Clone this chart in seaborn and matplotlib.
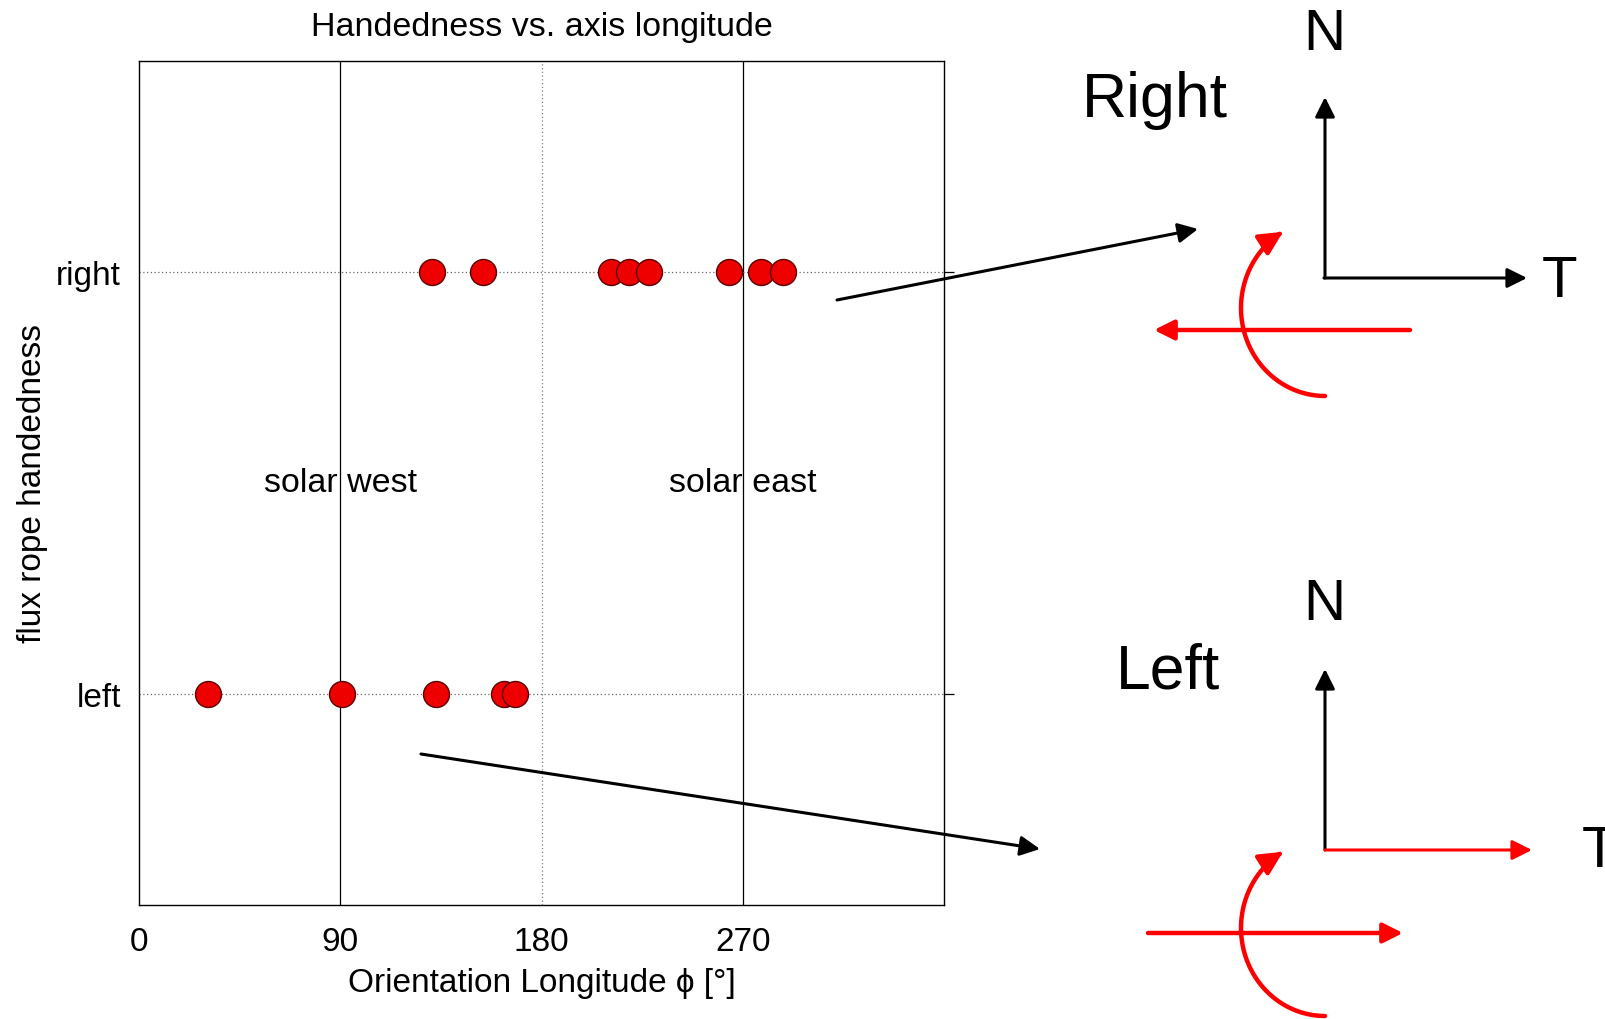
import numpy as np
import pandas as pd
import matplotlib.pyplot as plt
from matplotlib.path import Path
from matplotlib.patches import FancyArrowPatch
import seaborn as sns

# data
right_phi = [131, 154, 211, 219, 228, 264, 278, 288]
left_phi = [31, 91, 133, 163, 168]
hand_labels = ["left", "right"]
xtick_vals = [0, 90, 180, 270]

df = pd.DataFrame({
    "phi": right_phi + left_phi,
    "hand": ["right"] * len(right_phi) + ["left"] * len(left_phi),
})
df["y"] = df["hand"].map({"left": 1, "right": 2})

sns.set_style("white")
plt.rcParams["font.family"] = ["Liberation Sans", "DejaVu Sans"]
plt.rcParams["text.color"] = "black"
plt.rcParams["axes.labelcolor"] = "black"

fig = plt.figure(figsize=(16.05, 10.2), dpi=100)
ax = fig.add_axes([0.0866, 0.1118, 0.5016, 0.8275])

# reference lines
ax.axvline(90, color="black", lw=0.9, zorder=1)
ax.axvline(270, color="black", lw=0.9, zorder=1)
ax.axvline(180, color="gray", lw=0.9, ls=(0, (1, 2)), zorder=1)
for yv in [1, 2]:
    ax.axhline(yv, color="dimgray", lw=0.9, ls=(0, (1, 2)), zorder=1)

sns.scatterplot(data=df, x="phi", y="y", ax=ax, s=350, color="#ee0000",
                edgecolor="#5a0000", linewidth=1.0, zorder=3, legend=False)

ax.set_xlim(0, 360)
ax.set_ylim(0.5, 2.5)
ax.set_xticks(xtick_vals)
ax.set_xticklabels([str(v) for v in xtick_vals])
ax.set_yticks([1, 2])
ax.set_yticklabels(hand_labels)
ax.tick_params(axis="both", direction="out", labelsize=24, colors="black")
ax.tick_params(axis="x", length=11, width=0.9, pad=4)
ax.tick_params(axis="y", length=12, width=0.9, pad=1)
ax.tick_params(axis="y", which="major", right=True)
for t in ax.yaxis.get_major_ticks():
    t.tick2line.set_markersize(7)
for sp in ax.spines.values():
    sp.set_color("black")
    sp.set_linewidth(1.0)

ax.set_title("Handedness vs. axis longitude", fontsize=24.5, pad=19)
ax.set_xlabel("Orientation Longitude \u03d5 [°]", fontsize=24, labelpad=7)
ax.set_ylabel("flux rope handedness", fontsize=24, labelpad=6)

ax.text(90, 1.5, "solar west", fontsize=24.5, ha="center", va="center")
ax.text(270, 1.5, "solar east", fontsize=24.5, ha="center", va="center")

# overlay in pixel coordinates for the sketches
ov = fig.add_axes([0, 0, 1, 1], zorder=5)
ov.set_xlim(0, 1605)
ov.set_ylim(1020, 0)
ov.axis("off")
ov.patch.set_alpha(0)


def arrow(a, b, color, lw, hl=0.6, hw=0.3):
    ov.annotate("", xy=b, xytext=a,
                arrowprops=dict(arrowstyle=f"-|>,head_length={hl},head_width={hw}",
                                color=color, lw=lw, shrinkA=0, shrinkB=0,
                                mutation_scale=20))


def curl(cx, cy, color):
    t = np.radians(np.linspace(90, 240, 60))
    verts = np.column_stack([cx + 84 * np.cos(t), cy + 88 * np.sin(t)])
    p = FancyArrowPatch(path=Path(verts), arrowstyle="-|>,head_length=0.7,head_width=0.35",
                        mutation_scale=20, color=color, lw=3.2)
    ov.add_patch(p)


# links from data rows
arrow((837, 301), (1198, 230), "black", 2.2)
arrow((421, 755), (1040, 850), "black", 2.2)

# Right sketch
ov.text(1155, 100, "Right", fontsize=45, ha="center", va="center")
ov.text(1324, 35, "N", fontsize=42, ha="center", va="center")
ov.text(1560, 282, "T", fontsize=42, ha="center", va="center")
arrow((1325, 279), (1325, 98), "black", 2.2)
arrow((1324, 279), (1527, 279), "black", 2.2)
arrow((1410, 331), (1154, 331), "red", 3.2)
curl(1325, 309, "red")

# Left sketch
ov.text(1168, 672, "Left", fontsize=45, ha="center", va="center")
ov.text(1324, 605, "N", fontsize=42, ha="center", va="center")
ov.text(1600, 852, "T", fontsize=42, ha="center", va="center")
arrow((1325, 851), (1325, 670), "black", 2.2)
arrow((1325, 851), (1532, 851), "red", 2.2)
arrow((1148, 934), (1403, 934), "red", 3.2)
curl(1325, 929, "red")

fig.savefig("out.png", dpi=100)
